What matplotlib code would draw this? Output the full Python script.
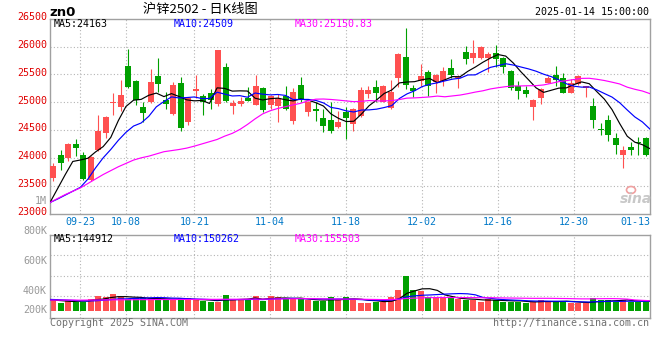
import matplotlib
matplotlib.use("Agg")
import matplotlib.pyplot as plt
import numpy as np
import pandas as pd
from matplotlib.patches import Ellipse

# ---------------- data ----------------
opens = [23644, 24060, 23989, 24257, 24060, 23602, 24149, 24441, 24977, 24905,
         25649, 25381, 24911, 25000, 25470, 25042, 24792, 25340, 24637, 25203,
         25113, 25161, 24965, 25625, 24923, 24965, 25084, 24953, 25262, 24953,
         24923, 25119, 24667, 25310, 24816, 24881, 24715, 24685, 24548, 24822,
         24608, 24744, 25149, 25280, 25012, 24893, 25429, 25804, 25262, 25381,
         25548, 25369, 25381, 25607, 25429, 25905, 25786, 25786, 25786, 25875,
         25798, 25560, 25292, 25220, 24905, 25072, 25351, 25488, 25429, 25173,
         25328, 25262, 24935, 24506, 24685, 24358, 24060, 24197, 24280, 24358]
closes = [23852, 23911, 24250, 24179, 23614, 24013, 24477, 24727, 25000, 25131,
          25280, 25042, 24798, 25369, 25328, 24965, 25310, 24536, 25072, 25238,
          25000, 25042, 25935, 25024, 24994, 25024, 25024, 25292, 24864, 25113,
          25072, 24875, 25191, 25042, 25000, 24846, 24578, 24477, 24643, 24715,
          24875, 25220, 25220, 25173, 25292, 25191, 25857, 25300, 25203, 25470,
          25292, 25488, 25560, 25488, 25458, 25774, 25875, 25994, 25863, 25774,
          25637, 25250, 25209, 25149, 25042, 25232, 25441, 25399, 25173, 25339,
          25470, 25280, 24685, 24494, 24405, 24227, 24132, 24149, 24268, 24048]
highs = [23911, 24132, 24270, 24346, 24102, 24030, 24774, 24745, 25173, 25399,
         25964, 25390, 25000, 25589, 25798, 25179, 25369, 25447, 25101, 25488,
         25149, 25238, 25945, 25708, 25042, 25101, 25280, 25488, 25280, 25131,
         25143, 25292, 25262, 25459, 25030, 25000, 24875, 25000, 24834, 24911,
         24893, 25280, 25292, 25399, 25300, 25399, 25875, 26333, 25310, 25679,
         25577, 25500, 25637, 25768, 25488, 26006, 26113, 26006, 25893, 26024,
         25816, 25577, 25381, 25298, 25054, 25250, 25470, 25649, 25518, 25411,
         25480, 25292, 25072, 24625, 24774, 24447, 24209, 24286, 24370, 24370]
lows = [23584, 23781, 23941, 24030, 23602, 23584, 24120, 24358, 24774, 24846,
        25262, 24941, 24643, 24982, 25191, 24875, 24774, 24489, 24596, 25072,
        24762, 24875, 24923, 25000, 24786, 24935, 25020, 24941, 24816, 24881,
        24637, 24851, 24607, 25000, 24756, 24655, 24459, 24447, 24536, 24340,
        24477, 24740, 25072, 25000, 25000, 24875, 25280, 25238, 25101, 25298,
        25119, 25161, 25298, 25429, 25262, 25679, 25696, 25774, 25536, 25637,
        25530, 25220, 25054, 25090, 24673, 24965, 25339, 25298, 25161, 25161,
        25310, 25101, 24536, 24405, 24310, 24078, 23810, 24048, 24060, 24030]
volumes = [167000, 135000, 161000, 145000, 145000, 171000, 200000, 190000, 220000, 190000,
           171000, 177000, 177000, 177000, 177000, 161000, 161000, 177000, 177000, 158000,
           151000, 145000, 145000, 207000, 168000, 168000, 161000, 200000, 151000, 200000,
           187000, 168000, 177000, 168000, 158000, 151000, 151000, 187000, 168000, 187000,
           168000, 135000, 135000, 145000, 145000, 187000, 259000, 398000, 259000, 249000,
           194000, 177000, 177000, 177000, 168000, 161000, 161000, 145000, 168000, 161000,
           145000, 145000, 145000, 135000, 145000, 161000, 145000, 145000, 151000, 129000,
           129000, 129000, 184000, 161000, 161000, 145000, 161000, 145000, 145000, 145000]

# moving-average values before each window is complete
ma5_head = [23197, 23447, 23697, 23935]
ma10_head = [23197, 23260, 23330, 23400, 23470, 23620, 23820, 24000, 24150]
ma30_head = [23197, 23270, 23340, 23400, 23460, 23540, 23620, 23700, 23770, 23840,
             23900, 23960, 24000, 24030, 24070, 24110, 24130, 24150, 24175, 24210,
             24250, 24290, 24330, 24390, 24440, 24510, 24600, 24700, 24790]
vol_ma5_head = [161000, 158000, 152000, 147000]
vol_ma10_head = [167000, 165000, 162000, 158000, 154000, 152000, 154000, 159000, 165000]
vol_ma30_head = [160000, 160000, 161000, 161000, 160000, 161000, 162000, 162000, 163000, 163000,
                 164000, 164000, 165000, 165000, 166000, 166000, 166000, 167000, 167000, 167000,
                 168000, 168000, 168000, 169000, 169000, 169000, 170000, 170000, 170000]

date_labels = ["09-23", "10-08", "10-21", "11-04", "11-18", "12-02", "12-16", "12-30", "01-13"]
date_index = [4, 10, 19, 29, 39, 49, 59, 69, 78]
price_ticks = [23000, 23500, 24000, 24500, 25000, 25500, 26000, 26500]
vol_grid = [200000, 400000, 600000]
vol_tick_labels = ["800K", "600K", "400K", "200K"]

title_text = "沪锌2502 - 日K线图"
symbol_text = "zn0"
time_text = "2025-01-14 15:00:00"
price_legend = ["MA5:24163", "MA10:24509", "MA30:25150.83"]
vol_legend = ["MA5:144912", "MA10:150262", "MA30:155503"]

# ---------------- styles ----------------
W, H = 660, 360
RED = "#ff5050"
GREEN = "#00a000"
MA_COLORS = ["#000000", "#0000ff", "#ff00ff"]
FRAME = "#a0a0a0"
GRID = "#b4b4b4"
MONO = "DejaVu Sans Mono"
FS = 7.2
VOL_BASE = 56600


def moving_avg(vals, n, head):
    s = pd.Series(vals, dtype=float).rolling(n).mean().to_numpy()
    s[:len(head)] = head
    return s


n = len(closes)
x = np.arange(n)
x_line = -0.4 + x * n / (n - 1)          # line / grid positions span the full width
o = np.array(opens, float)
c = np.array(closes, float)
up = c >= o
colors = [RED if u else GREEN for u in up]

fig = plt.figure(figsize=(W / 100, H / 100), dpi=100)
fig.patch.set_facecolor("white")


def fx(px):
    return px / W


def fy(py):
    return 1 - py / H


# ---------------- price panel ----------------
ax1 = fig.add_axes([fx(50), fy(213.5), 600 / W, 194.8 / H])
ax1.set_xlim(-0.4, n - 0.4)
ax1.set_ylim(23000, 26500)
for yv in price_ticks[1:-1]:
    ax1.axhline(yv, color=GRID, lw=0.8, ls=(0, (1, 2)), zorder=0)
for di in date_index[:-1]:
    ax1.axvline(x_line[di], color=GRID, lw=0.8, ls=(0, (1, 2)), zorder=0)

ax1.vlines(x, lows, highs, colors=colors, lw=0.8, zorder=2)
body_h = np.maximum(np.abs(c - o), 20)
ax1.bar(x, body_h, bottom=np.minimum(o, c), width=0.8, color=colors, lw=0, zorder=3)

for vals, n_, head, col in [(closes, 5, ma5_head, MA_COLORS[0]),
                            (closes, 10, ma10_head, MA_COLORS[1]),
                            (closes, 30, ma30_head, MA_COLORS[2])]:
    ax1.plot(x_line, moving_avg(vals, n_, head), color=col, lw=0.85, zorder=4)

ax1.set_xticks([])
ax1.set_yticks([])
for s in ax1.spines.values():
    s.set_color(FRAME)
    s.set_linewidth(1.0)

ytr = ax1.get_yaxis_transform()
for yv in price_ticks:
    ax1.text(-0.005, yv + 30, str(yv), transform=ytr, ha="right", va="center",
             fontsize=FS, family=MONO, color="#e00000")
fig.text(fx(47), fy(200.7), "1M", ha="right", va="center", fontsize=FS,
         family=MONO, color="#999999")

xtr = ax1.get_xaxis_transform()
for lab, di in zip(date_labels[:-1], date_index[:-1]):
    ax1.text(x_line[di], -0.042, lab, transform=xtr, ha="center", va="center",
             fontsize=FS, family=MONO, color="#0078c8")
ax1.text(1.0, -0.042, date_labels[-1], transform=ax1.transAxes, ha="right",
         va="center", fontsize=FS, family=MONO, color="#0078c8")

for txt, px, col in zip(price_legend, [54, 174, 295], MA_COLORS):
    fig.text(fx(px), fy(24), txt, ha="left", va="center", fontsize=FS,
             family=MONO, color=col)

# sina watermark
fig.text(fx(636), fy(199), "sina", ha="center", va="center", fontsize=10,
         family="DejaVu Sans", weight="bold", style="italic", color="#c8c8c8")
fig.add_artist(Ellipse((fx(631), fy(190)), 9 / W, 7 / H, transform=fig.transFigure,
                       facecolor="none", edgecolor="#f0a0a0", lw=1.2))

# ---------------- volume panel ----------------
ax2 = fig.add_axes([fx(50), fy(318.3), 600 / W, 83.6 / H])
ax2.set_xlim(-0.4, n - 0.4)
ax2.set_ylim(-17500, 800000)
for yv in vol_grid:
    ax2.axhline(yv, color=GRID, lw=0.8, ls=(0, (1, 2)), zorder=0)
for di in date_index[:-1]:
    ax2.axvline(x_line[di], color=GRID, lw=0.8, ls=(0, (1, 2)), zorder=0)
v = np.array(volumes, float)
ax2.bar(x, v - VOL_BASE, bottom=VOL_BASE, width=0.8, color=colors, lw=0, zorder=2)
for n_, head, col in [(5, vol_ma5_head, MA_COLORS[0]),
                      (10, vol_ma10_head, MA_COLORS[1]),
                      (30, vol_ma30_head, MA_COLORS[2])]:
    ax2.plot(x_line, moving_avg(volumes, n_, head), color=col, lw=0.85, zorder=3)
ax2.set_xticks([])
ax2.set_yticks([])
for s in ax2.spines.values():
    s.set_color(FRAME)
    s.set_linewidth(1.0)

for lab, py in zip(vol_tick_labels, [230.7, 261, 290.5, 310.3]):
    fig.text(fx(47), fy(py), lab, ha="right", va="center", fontsize=FS,
             family=MONO, color="#999999")
for txt, px, col in zip(vol_legend, [54, 174, 295], MA_COLORS):
    fig.text(fx(px), fy(239), txt, ha="left", va="center", fontsize=FS,
             family=MONO, color=col)

# ---------------- header / footer ----------------
fig.text(fx(49), fy(12), symbol_text, ha="left", va="center", fontsize=9.5,
         family="DejaVu Sans", weight="bold", color="#000000")
fig.text(fx(200), fy(10), title_text, ha="center", va="center", fontsize=9.5,
         family=["Noto Sans CJK SC", "DejaVu Sans"], color="#000000")
fig.text(fx(649), fy(12), time_text, ha="right", va="center", fontsize=FS,
         family=MONO, color="#000000")
fig.text(fx(50), fy(323.5), "Copyright 2025 SINA.COM", ha="left", va="center",
         fontsize=FS, family=MONO, color="#707070")
fig.text(fx(649), fy(323.5), "http://finance.sina.com.cn", ha="right", va="center",
         fontsize=FS, family=MONO, color="#707070")

fig.savefig("out.png", dpi=100, facecolor="white")
